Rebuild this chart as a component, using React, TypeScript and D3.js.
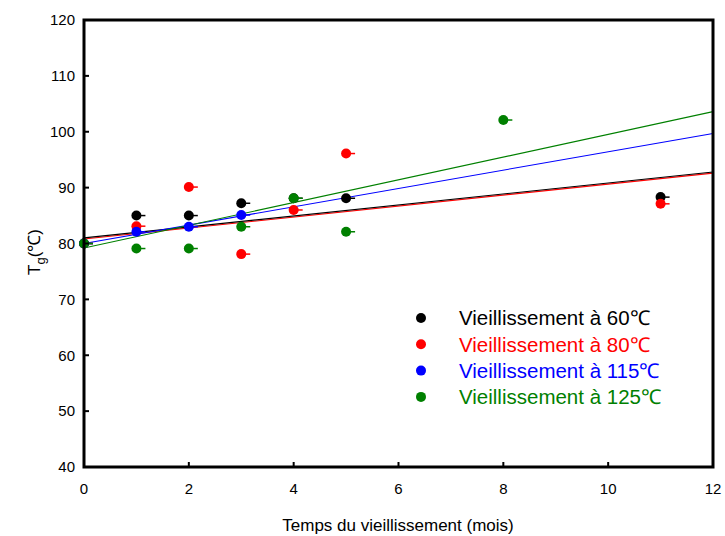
import React from "react";
import * as d3 from "d3";

const xTicks = [0, 2, 4, 6, 8, 10, 12];
const yTicks = [40, 50, 60, 70, 80, 90, 100, 110, 120];

const months60 = [0, 1, 2, 3, 4, 5, 11];
const tg60 = [80, 85, 85, 87.2, 88.1, 88.1, 88.3];
const months80 = [0, 1, 2, 3, 4, 5, 11];
const tg80 = [80, 83.1, 90.1, 78.1, 86, 96.1, 87.1];
const months115 = [0, 1, 2, 3];
const tg115 = [80, 82.1, 83, 85.1];
const months125 = [0, 1, 2, 3, 4, 5, 8];
const tg125 = [80, 79.1, 79.1, 83, 88.1, 82.1, 102.1];

// fitted lines: [value at x=0, value at x=12]
const fit60 = [81.0, 92.8];
const fit80 = [80.8, 92.6];
const fit115 = [80.0, 99.7];
const fit125 = [79.2, 103.6];

const seriesNames = [
  "Vieillissement à 60℃",
  "Vieillissement à 80℃",
  "Vieillissement à 115℃",
  "Vieillissement à 125℃",
];
const colors = ["#000000", "#ff0000", "#0000ff", "#008000"];

export default function App() {
  const W = 725, H = 536;
  const x = d3.scaleLinear().domain([0, 12]).range([84, 713]);
  const y = d3.scaleLinear().domain([40, 120]).range([467, 20]);
  const font = "'Liberation Sans', Arial, sans-serif";

  const series = [
    { xs: months60, ys: tg60, fit: fit60, c: colors[0] },
    { xs: months80, ys: tg80, fit: fit80, c: colors[1] },
    { xs: months115, ys: tg115, fit: fit115, c: colors[2] },
    { xs: months125, ys: tg125, fit: fit125, c: colors[3] },
  ];
  const line = d3.line<[number, number]>().x(d => x(d[0])).y(d => y(d[1]));
  const lineOrder = [1, 0, 2, 3];

  return (
    <svg width={W} height={H} style={{ position: "absolute", left: 0, top: 0, display: "block" }} fontFamily={font}>
      <rect width={W} height={H} fill="#fff" />
      {lineOrder.map(i => {
        const s = series[i];
        return (
          <path key={"l" + i} d={line([[0, s.fit[0]], [12, s.fit[1]]]) || ""} stroke={s.c} strokeWidth={1.1} fill="none" />
        );
      })}
      {series.map((s, i) => (
        <g key={"p" + i}>
          {s.xs.map((m, j) => (
            <g key={j}>
              <line x1={x(m)} x2={x(m) + 9} y1={y(s.ys[j])} y2={y(s.ys[j])} stroke={s.c} strokeWidth={1.5} />
              <circle cx={x(m)} cy={y(s.ys[j])} r={5} fill={s.c} />
            </g>
          ))}
        </g>
      ))}
      <rect x={x(0)} y={y(120)} width={x(12) - x(0)} height={y(40) - y(120)} fill="none" stroke="#000" strokeWidth={3} />
      {yTicks.map(t => (
        <g key={"yt" + t}>
          <line x1={x(0)} x2={x(0) + 5} y1={y(t)} y2={y(t)} stroke="#000" strokeWidth={2} />
          <text x={75} y={y(t)} dy="0.35em" textAnchor="end" fontSize={15} fill="#000">{t}</text>
        </g>
      ))}
      {xTicks.map(t => (
        <g key={"xt" + t}>
          <line x1={x(t)} x2={x(t)} y1={y(40)} y2={y(40) - 5} stroke="#000" strokeWidth={2} />
          <text x={x(t)} y={494} textAnchor="middle" fontSize={15} fill="#000">{t}</text>
        </g>
      ))}
      <text x={398} y={531} textAnchor="middle" fontSize={17} fill="#000">Temps du vieillissement (mois)</text>
      <text transform={`translate(40,252) rotate(-90)`} textAnchor="middle" fontSize={17} fill="#000">
        T<tspan fontSize={13} dy={5}>g</tspan><tspan dy={-5}>(℃)</tspan>
      </text>
      {seriesNames.map((n, i) => (
        <g key={"lg" + i}>
          <circle cx={421} cy={318 + i * 26.3} r={5} fill={colors[i]} />
          <text x={459} y={318 + i * 26.3} dy="0.36em" fontSize={20.5} fill={colors[i]}>{n}</text>
        </g>
      ))}
    </svg>
  );
}
